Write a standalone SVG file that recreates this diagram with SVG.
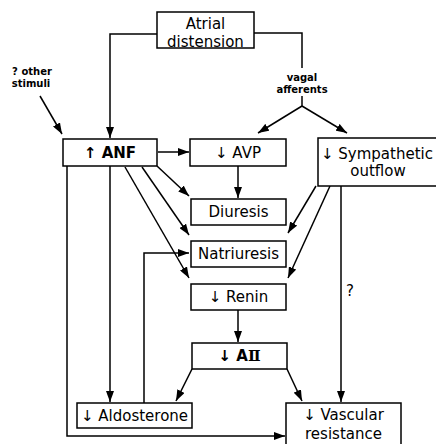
<svg xmlns="http://www.w3.org/2000/svg" width="436" height="444" viewBox="0 0 436 444">
  <style>
    .box { fill: #fff; stroke: #000; stroke-width: 1.5; }
    .lbl { font-family: "DejaVu Sans", "Liberation Sans", sans-serif; font-size: 15px; fill: #000; text-anchor: middle; }
    .bold { font-weight: bold; }
    .roman { font-family: "DejaVu Serif", "Liberation Serif", serif; font-weight: bold; }
    .small { font-family: "DejaVu Sans", "Liberation Sans", sans-serif; font-size: 10px; font-weight: bold; fill: #000; text-anchor: middle; }
    .con { fill: none; stroke: #000; stroke-width: 1.5; }
    .arr { marker-end: url(#head); }
  </style>
  <defs>
    <marker id="head" markerUnits="userSpaceOnUse" markerWidth="11" markerHeight="8" refX="11" refY="4" orient="auto">
      <path d="M0,0 L11,4 L0,8 z" fill="#000"/>
    </marker>
  </defs>
  <rect width="436" height="444" fill="#fff"/>

  <g id="connectors">
    <polyline class="con arr" points="157,34 110,34 110,138"/>
    <polyline class="con" points="254,33 302,33 302,68"/>
    <polyline class="con" points="302,96 302,106"/>
    <line class="con arr" x1="302" y1="106" x2="258" y2="133"/>
    <line class="con arr" x1="302" y1="106" x2="347" y2="133"/>
    <line class="con arr" x1="40" y1="96" x2="62" y2="134"/>
    <line class="con arr" x1="158" y1="152" x2="189" y2="152"/>
    <line class="con arr" x1="238" y1="166" x2="238" y2="198"/>
    <line class="con arr" x1="157" y1="166" x2="189" y2="196"/>
    <line class="con arr" x1="142" y1="167" x2="189" y2="235"/>
    <line class="con arr" x1="125" y1="167" x2="189" y2="278"/>
    <line class="con arr" x1="316" y1="186" x2="288" y2="233"/>
    <line class="con arr" x1="330" y1="186" x2="288" y2="278"/>
    <line class="con arr" x1="341" y1="186" x2="341" y2="402"/>
    <line class="con arr" x1="238" y1="310" x2="238" y2="342"/>
    <line class="con arr" x1="192" y1="369" x2="176" y2="401"/>
    <line class="con arr" x1="287" y1="369" x2="302" y2="401"/>
    <polyline class="con arr" points="67,166 67,436 285,436"/>
    <line class="con arr" x1="110" y1="166" x2="110" y2="402"/>
    <polyline class="con arr" points="144,403 144,253 189,253"/>
  </g>

  <g id="atrial-distension">
    <rect class="box" x="157" y="12" width="97" height="36"/>
    <text class="lbl" x="205.5" y="28.5">Atrial</text>
    <text class="lbl" x="205.5" y="46.5">distension</text>
  </g>

  <g id="vagal-afferents">
    <text class="small" x="302" y="81">vagal</text>
    <text class="small" x="302" y="93">afferents</text>
  </g>

  <g id="other-stimuli">
    <text class="small" x="32" y="75">? other</text>
    <text class="small" x="31" y="87">stimuli</text>
  </g>

  <g id="anf">
    <rect class="box" x="63" y="139" width="94" height="27"/>
    <text class="lbl bold" x="110" y="158" font-size="16">↑ ANF</text>
  </g>

  <g id="avp">
    <rect class="box" x="190" y="139" width="96" height="27"/>
    <text class="lbl" x="238" y="158">↓ AVP</text>
  </g>

  <g id="sympathetic-outflow">
    <rect class="box" x="318" y="138" width="124" height="48"/>
    <text class="lbl" x="377" y="159">↓ Sympathetic</text>
    <text class="lbl" x="378" y="176">outflow</text>
  </g>

  <g id="diuresis">
    <rect class="box" x="191" y="199" width="95" height="26"/>
    <text class="lbl" x="238.5" y="217">Diuresis</text>
  </g>

  <g id="natriuresis">
    <rect class="box" x="191" y="241" width="95" height="26"/>
    <text class="lbl" x="238.5" y="259">Natriuresis</text>
  </g>

  <g id="renin">
    <rect class="box" x="191" y="284" width="95" height="26"/>
    <text class="lbl" x="238.5" y="302">↓ Renin</text>
  </g>

  <g id="angiotensin-ii">
    <rect class="box" x="192" y="343" width="95" height="26"/>
    <text class="lbl bold" x="239.5" y="361">↓ A<tspan class="roman">Ⅱ</tspan></text>
  </g>

  <g id="aldosterone">
    <rect class="box" x="77" y="403" width="115" height="25"/>
    <text class="lbl" x="134.5" y="421">↓ Aldosterone</text>
  </g>

  <g id="vascular-resistance">
    <rect class="box" x="286" y="403" width="115" height="50"/>
    <text class="lbl" x="343.5" y="420">↓ Vascular</text>
    <text class="lbl" x="343.5" y="439">resistance</text>
  </g>

  <g id="uncertain-link">
    <text class="lbl" x="350" y="296">?</text>
  </g>
</svg>
